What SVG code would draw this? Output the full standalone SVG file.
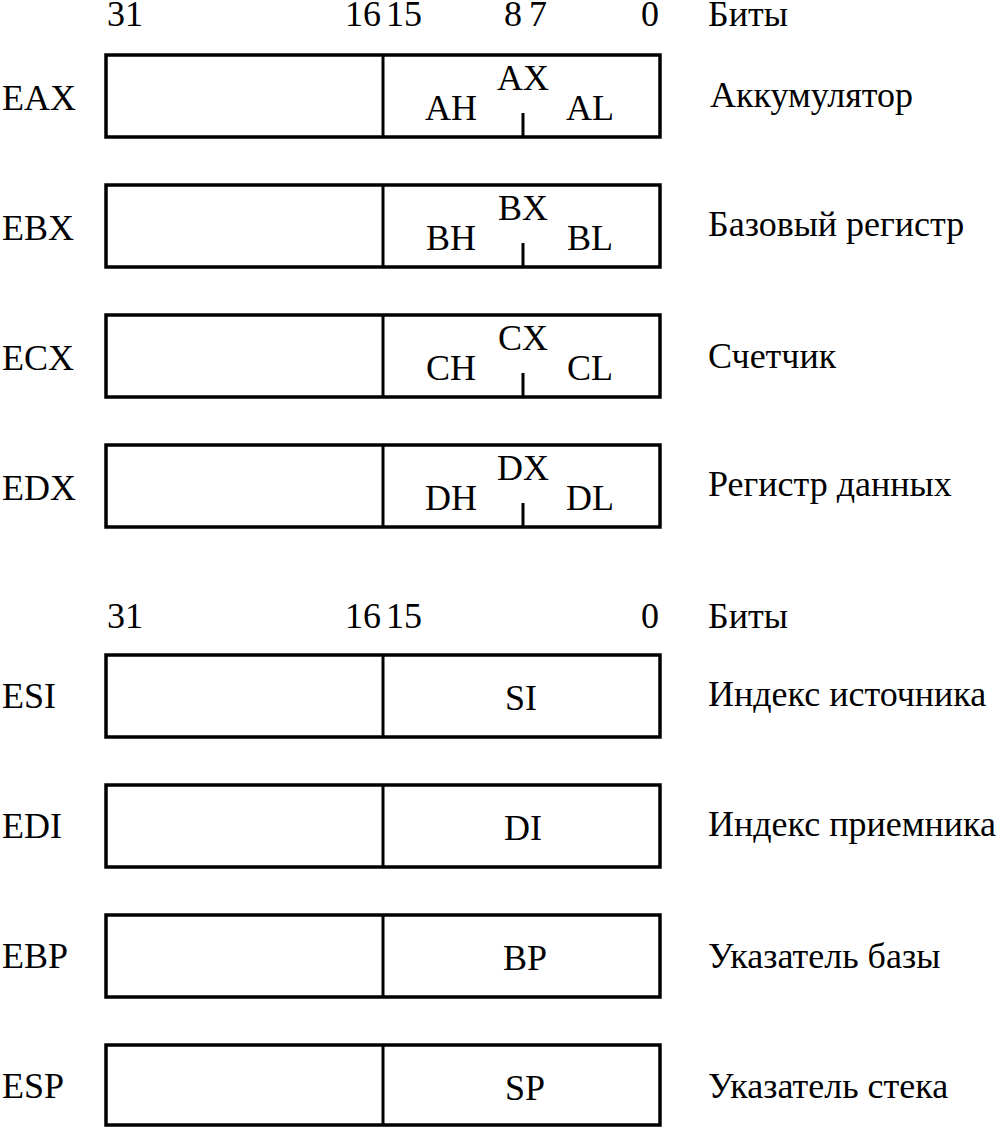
<svg xmlns="http://www.w3.org/2000/svg" width="1007" height="1129" viewBox="0 0 1007 1129">
<style>
text{font-family:'Liberation Serif','Times New Roman',serif;font-size:36px;fill:#000}
.c{text-anchor:middle}
.e{text-anchor:end}
.box{fill:#fff;stroke:#000;stroke-width:3.5}
.ln{stroke:#000;stroke-width:3}
</style>
<rect width="1007" height="1129" fill="#fff"/>
<g id="bits-top">
<text x="107" y="26">31</text>
<text class="e" x="381" y="26">16</text>
<text x="386" y="26">15</text>
<text x="504" y="26">8</text>
<text x="529" y="26">7</text>
<text x="641" y="26">0</text>
<text x="708" y="26">Биты</text>
</g>
<g id="eax">
<rect class="box" x="106" y="55" width="554" height="82"/>
<line class="ln" x1="383" y1="55" x2="383" y2="137"/>
<line class="ln" x1="523" y1="113" x2="523" y2="137"/>
<text x="2" y="110">EAX</text>
<text class="c" x="523" y="90">AX</text>
<text class="c" x="451" y="120">AH</text>
<text class="c" x="590" y="120">AL</text>
<text x="710" y="107">Аккумулятор</text>
</g>
<g id="ebx">
<rect class="box" x="106" y="185" width="554" height="82"/>
<line class="ln" x1="383" y1="185" x2="383" y2="267"/>
<line class="ln" x1="523" y1="243" x2="523" y2="267"/>
<text x="2" y="240">EBX</text>
<text class="c" x="523" y="220">BX</text>
<text class="c" x="451" y="250">BH</text>
<text class="c" x="590" y="250">BL</text>
<text x="708" y="236">Базовый регистр</text>
</g>
<g id="ecx">
<rect class="box" x="106" y="315" width="554" height="82"/>
<line class="ln" x1="383" y1="315" x2="383" y2="397"/>
<line class="ln" x1="523" y1="373" x2="523" y2="397"/>
<text x="2" y="370">ECX</text>
<text class="c" x="523" y="350">CX</text>
<text class="c" x="451" y="380">CH</text>
<text class="c" x="590" y="380">CL</text>
<text x="708" y="368">Счетчик</text>
</g>
<g id="edx">
<rect class="box" x="106" y="445" width="554" height="82"/>
<line class="ln" x1="383" y1="445" x2="383" y2="527"/>
<line class="ln" x1="523" y1="503" x2="523" y2="527"/>
<text x="2" y="500">EDX</text>
<text class="c" x="523" y="480">DX</text>
<text class="c" x="451" y="510">DH</text>
<text class="c" x="590" y="510">DL</text>
<text x="708" y="496">Регистр данных</text>
</g>
<g id="bits-bottom">
<text x="107" y="628">31</text>
<text class="e" x="381" y="628">16</text>
<text x="386" y="628">15</text>
<text x="641" y="628">0</text>
<text x="708" y="628">Биты</text>
</g>
<g id="esi">
<rect class="box" x="106" y="655" width="554" height="82"/>
<line class="ln" x1="383" y1="655" x2="383" y2="737"/>
<text x="2" y="708">ESI</text>
<text class="c" x="521" y="710">SI</text>
<text x="708" y="706">Индекс источника</text>
</g>
<g id="edi">
<rect class="box" x="106" y="785" width="554" height="82"/>
<line class="ln" x1="383" y1="785" x2="383" y2="867"/>
<text x="2" y="838">EDI</text>
<text class="c" x="523" y="840">DI</text>
<text x="708" y="836">Индекс приемника</text>
</g>
<g id="ebp">
<rect class="box" x="106" y="915" width="554" height="82"/>
<line class="ln" x1="383" y1="915" x2="383" y2="997"/>
<text x="2" y="968">EBP</text>
<text class="c" x="525" y="970">BP</text>
<text x="708" y="968">Указатель базы</text>
</g>
<g id="esp">
<rect class="box" x="106" y="1045" width="554" height="80"/>
<line class="ln" x1="383" y1="1045" x2="383" y2="1125"/>
<text x="2" y="1098">ESP</text>
<text class="c" x="525" y="1100">SP</text>
<text x="708" y="1098">Указатель стека</text>
</g>
<g id="connectors"/>
</svg>
